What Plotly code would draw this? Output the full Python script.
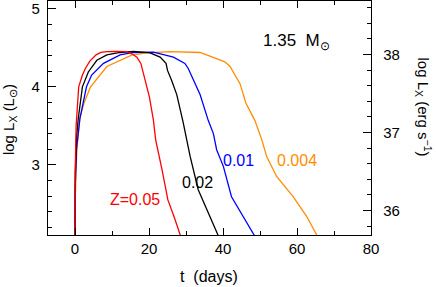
import plotly.graph_objects as go

# Data (t in days, log L_X in L_sun)
t_red = [0, 0.05, 0.3, 0.6, 1.0, 2.0, 2.8, 4.0, 5.7, 7.0, 8.6, 11, 14, 15.5, 16.7, 17.8, 18.9, 20.1, 21.2, 21.8, 23.5, 25.1, 26.8, 28.4, 28.8]
L_red = [2.0, 2.9, 3.5, 3.8, 4.0, 4.15, 4.235, 4.33, 4.41, 4.44, 4.45, 4.455, 4.45, 4.42, 4.38, 4.30, 4.085, 3.87, 3.57, 3.32, 2.94, 2.55, 2.33, 2.1, 2.05]

t_blk = [0, 0.08, 0.4, 0.9, 2.0, 3.6, 5.9, 8.6, 12.2, 15.8, 20.3, 23.0, 24.6, 25.0, 26.1, 27.5, 29.2, 31.1, 33.3, 35.6, 38.7, 39.1]
L_blk = [2.0, 2.9, 3.35, 3.6, 4.0, 4.19, 4.34, 4.41, 4.44, 4.455, 4.435, 4.38, 4.30, 4.21, 4.085, 3.9, 3.55, 3.11, 2.68, 2.43, 2.1, 2.05]

t_blu = [0, 0.05, 0.4, 1.35, 3.1, 4.5, 7.7, 12.2, 15.8, 21.2, 26.6, 29.7, 30.6, 32.0, 33.8, 36.0, 37.4, 38.3, 40.1, 42.3, 45.5, 48.4, 48.8]
L_blu = [2.0, 2.7, 3.2, 3.6, 4.0, 4.15, 4.30, 4.41, 4.44, 4.445, 4.38, 4.30, 4.235, 4.085, 3.9, 3.57, 3.40, 3.19, 2.98, 2.59, 2.34, 2.1, 2.05]

t_org = [0, 0.05, 0.5, 1.3, 2.5, 4.2, 8.6, 12.2, 15.3, 19.4, 25.7, 33.8, 37.4, 40.5, 41.9, 43.5, 44.6, 46.2, 48.6, 50.5, 51.8, 54.5, 59.0, 62.6, 65.5, 65.9]
L_org = [2.0, 2.55, 3.2, 3.6, 3.8, 4.0, 4.26, 4.34, 4.405, 4.435, 4.45, 4.44, 4.38, 4.32, 4.26, 4.13, 4.04, 3.79, 3.57, 3.32, 3.105, 2.85, 2.59, 2.34, 2.1, 2.05]

series = [
    ("0.004", t_org, L_org, "#ff8c00", 60.1, 3.06),
    ("0.01", t_blu, L_blu, "#0000ff", 44.1, 3.06),
    ("0.02", t_blk, L_blk, "#000000", 33.2, 2.77),
    ("Z=0.05", t_red, L_red, "#ff0000", 16.2, 2.56),
]

LSUN = 33.585  # log10(L_sun in erg/s)
y_range = [2.1, 5.1]
x_range = [-7.3, 80]

font = "Liberation Sans, Arial, Helvetica, sans-serif"

fig = go.Figure()
for name, t, L, col, lx, ly in series:
    fig.add_trace(go.Scatter(x=t, y=L, mode="lines", line=dict(color=col, width=1.3),
                             showlegend=False, hoverinfo="skip"))
    fig.add_annotation(x=lx, y=ly, xref="x", yref="y", text=name, showarrow=False,
                       xanchor="center", yanchor="middle",
                       font=dict(family=font, size=16, color=col))

# dummy empty trace to bring in the right axis
fig.add_trace(go.Scatter(x=[], y=[], yaxis="y2", showlegend=False))

fig.add_annotation(x=59.9, y=4.57, xref="x", yref="y", text="1.35  M<sub>⊙</sub>",
                   showarrow=False, xanchor="center", yanchor="middle",
                   font=dict(family=font, size=17, color="#000"))

fig.add_annotation(x=-0.121, y=0.495, xref="paper", yref="paper",
                   text="log L<sub>X</sub> (L<sub>⊙</sub>)", textangle=-90, showarrow=False,
                   xanchor="center", yanchor="middle",
                   font=dict(family=font, size=15, color="#000"))
fig.add_annotation(x=1.164, y=0.545, xref="paper", yref="paper",
                   text="log L<sub>X</sub> (erg s<sup>−1</sup>)", textangle=90, showarrow=False,
                   xanchor="center", yanchor="middle",
                   font=dict(family=font, size=15, color="#000"))
fig.add_annotation(x=0.4985, y=-0.178, xref="paper", yref="paper",
                   text="t  (days)", showarrow=False,
                   xanchor="center", yanchor="middle",
                   font=dict(family=font, size=16, color="#000"))

axis_common = dict(showgrid=False, zeroline=False, showline=True, linecolor="#000",
                   linewidth=1.3, ticks="inside", tickcolor="#000", tickwidth=1.2,
                   tickfont=dict(family=font, size=15, color="#000"))

fig.update_layout(
    width=436, height=287,
    margin=dict(l=48, r=65, t=1, b=52),
    plot_bgcolor="white", paper_bgcolor="white",
    xaxis=dict(range=x_range, dtick=20, tick0=0, ticklen=7, mirror="ticks",
               minor=dict(dtick=10, ticklen=4, ticks="inside", tickcolor="#000", tickwidth=1.2),
               ticklabelstandoff=0, **axis_common),
    yaxis=dict(range=y_range, dtick=1, tick0=0, ticklen=8, mirror=True,
               minor=dict(dtick=0.2, ticklen=4, ticks="inside", tickcolor="#000", tickwidth=1.2),
               ticklabelstandoff=4, **axis_common),
    yaxis2=dict(range=[y_range[0] + LSUN, y_range[1] + LSUN], overlaying="y", side="right",
                dtick=1, tick0=0, ticklen=8,
                minor=dict(dtick=0.2, ticklen=4, ticks="inside", tickcolor="#000", tickwidth=1.2),
                ticklabelstandoff=8, **axis_common),
)

fig.write_html("out.html", config={"displayModeBar": False},
               post_script="document.body.style.margin='0';document.body.style.overflow='hidden';")
